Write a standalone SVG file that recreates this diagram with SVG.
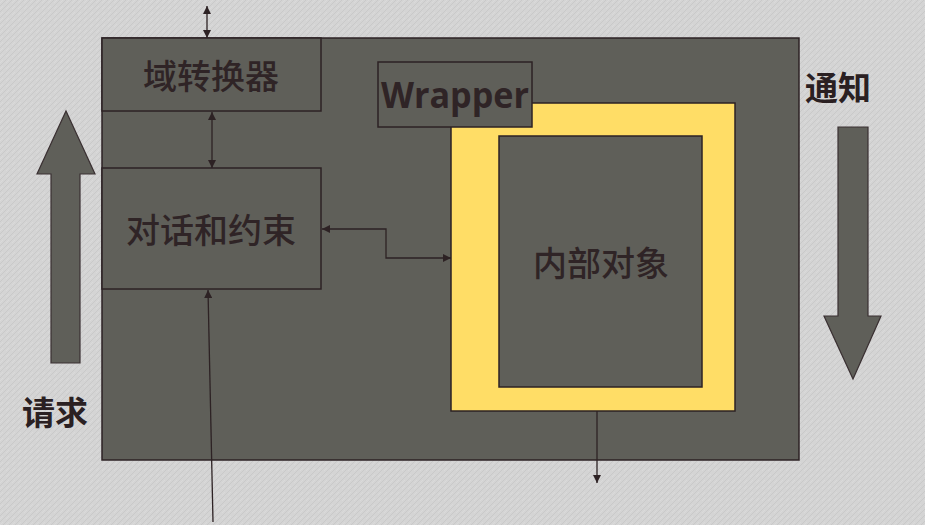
<svg xmlns="http://www.w3.org/2000/svg" width="925" height="525" viewBox="0 0 925 525">
<defs>
<style>
.box{fill:#5f5f59;stroke:#2d2224;stroke-width:1.5}
.cjk{font-family:"Noto Sans CJK SC","Noto Sans",sans-serif;font-size:34px;font-weight:500;fill:#2f2426;text-anchor:middle}
.side{font-family:"Noto Sans CJK SC","Noto Sans",sans-serif;font-size:33px;fill:#2a2022;text-anchor:middle;font-weight:bold}
.wr{font-family:"Open Sans","DejaVu Sans",sans-serif;font-size:35px;font-weight:700;fill:#2f2426;text-anchor:middle}
.conn{fill:none;stroke:#2d2224;stroke-width:1.3}
.big{fill:#5f5f59;stroke:#3a3032;stroke-width:1.2}
</style>
<marker id="ah" viewBox="0 0 10 10" refX="10" refY="5" markerWidth="8" markerHeight="8" markerUnits="userSpaceOnUse" orient="auto-start-reverse">
<path d="M0,0 L10,5 L0,10 Z" fill="#2d2224"/>
</marker>
<pattern id="tex" width="6" height="6" patternUnits="userSpaceOnUse">
<rect width="6" height="6" fill="#d4d4d4"/>
<path d="M0,6 L6,0" stroke="#c9c9c9" stroke-width="1"/>
<path d="M0,3 L3,0" stroke="#dcdcdc" stroke-width="0.8"/>
</pattern>
</defs>
<rect width="925" height="525" fill="url(#tex)"/>

<g id="main">
<rect class="box" x="102" y="38" width="697" height="422"/>
</g>

<g id="domain">
<rect class="box" x="102" y="38" width="219" height="73"/>
<text class="cjk" x="211" y="89">域转换器</text>
</g>

<g id="dialog">
<rect class="box" x="102" y="168" width="219" height="121"/>
<text class="cjk" x="211" y="243">对话和约束</text>
</g>

<g id="yellow">
<rect x="451" y="103" width="284" height="308" fill="#ffdd66" stroke="#2d2224" stroke-width="1.5"/>
</g>

<g id="inner">
<rect class="box" x="499" y="136" width="203" height="251"/>
<text class="cjk" x="601" y="276">内部对象</text>
</g>

<g id="wrapper">
<rect class="box" x="378" y="62" width="154" height="65"/>
<text class="wr" x="455" y="108" textLength="148" lengthAdjust="spacingAndGlyphs">Wrapper</text>
</g>

<g id="request">
<polygon class="big" points="66,111 95,174 80,174 80,363 51,363 51,174 37,174"/>
<text class="side" x="55" y="425">请求</text>
</g>

<g id="notify">
<polygon class="big" points="838,127 868,127 868,316 881,316 853,379 824,316 838,316"/>
<text class="side" x="838" y="100">通知</text>
</g>

<g id="connectors">
<line class="conn" x1="207" y1="6" x2="207" y2="38" marker-start="url(#ah)" marker-end="url(#ah)"/>
<line class="conn" x1="212" y1="112" x2="212" y2="168" marker-start="url(#ah)" marker-end="url(#ah)"/>
<polyline class="conn" points="322,229 386,229 386,258 451,258" marker-start="url(#ah)" marker-end="url(#ah)"/>
<line class="conn" x1="213" y1="522" x2="208" y2="290" marker-end="url(#ah)"/>
<line class="conn" x1="597" y1="411" x2="597" y2="483" marker-end="url(#ah)"/>
</g>
</svg>
